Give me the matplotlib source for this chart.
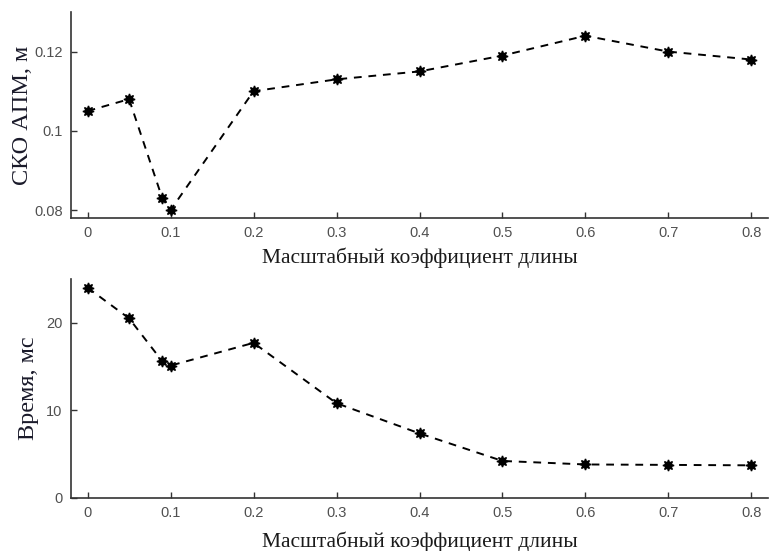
import matplotlib
matplotlib.use("Agg")
import matplotlib.pyplot as plt

x = [0, 0.05, 0.09, 0.1, 0.2, 0.3, 0.4, 0.5, 0.6, 0.7, 0.8]
sko = [0.105, 0.108, 0.083, 0.080, 0.110, 0.113, 0.115, 0.119, 0.124, 0.120, 0.118]
time_ms = [24.0, 20.5, 15.6, 15.1, 17.7, 10.8, 7.35, 4.2, 3.8, 3.75, 3.7]

xticks = [0, 0.1, 0.2, 0.3, 0.4, 0.5, 0.6, 0.7, 0.8]
xticklabels = ["0", "0.1", "0.2", "0.3", "0.4", "0.5", "0.6", "0.7", "0.8"]
yticks_top = [0.08, 0.1, 0.12]
yticklabels_top = ["0.08", "0.1", "0.12"]
yticks_bot = [0, 10, 20]
yticklabels_bot = ["0", "10", "20"]
xlabel = "Масштабный коэффициент длины"
ylabel_top = "СКО АПМ, м"
ylabel_bot = "Время, мс"

fig = plt.figure(figsize=(7.69, 5.51), dpi=100)
ax1 = fig.add_axes([71/769, 1-218/551, 697/769, 206/551])
ax2 = fig.add_axes([71/769, 1-497.7/551, 697/769, 218.7/551])

serif = ["Liberation Serif", "DejaVu Serif"]
sans = ["Liberation Sans", "DejaVu Sans"]

def style(ax, yvals, yt, ytl, ylim, ylab, xlabpad, ylabpad):
    ax.plot(x, yvals, color="black", linestyle=(0, (4, 3.5)), linewidth=1.4,
            marker=(8, 1, 0), markersize=8, markerfacecolor="black", markeredgecolor="black")
    ax.set_xlim(-0.02, 0.82)
    ax.set_ylim(*ylim)
    ax.set_xticks(xticks)
    ax.set_xticklabels(xticklabels, family=sans, fontsize=10.5, color="#505050")
    ax.set_yticks(yt)
    ax.set_yticklabels(ytl, family=sans, fontsize=10.5, color="#505050")
    ax.tick_params(direction="in", length=4, width=1, color="#333333", pad=6)
    for s in ["top", "right"]:
        ax.spines[s].set_visible(False)
    for s in ["left", "bottom"]:
        ax.spines[s].set_color("#333333")
        ax.spines[s].set_linewidth(1.2)
    ax.set_xlabel(xlabel, family=serif, fontsize=15.5, color="#1a1a1a", labelpad=xlabpad)
    ax.set_ylabel(ylab, family=serif, fontsize=17.5, color="#1a1a2a", labelpad=ylabpad)

style(ax1, sko, yticks_top, yticklabels_top, (0.078, 0.13), ylabel_top, 5, 1)
style(ax2, time_ms, yticks_bot, yticklabels_bot, (0, 25), ylabel_bot, 8, 5)

fig.savefig("out.png", dpi=100)
